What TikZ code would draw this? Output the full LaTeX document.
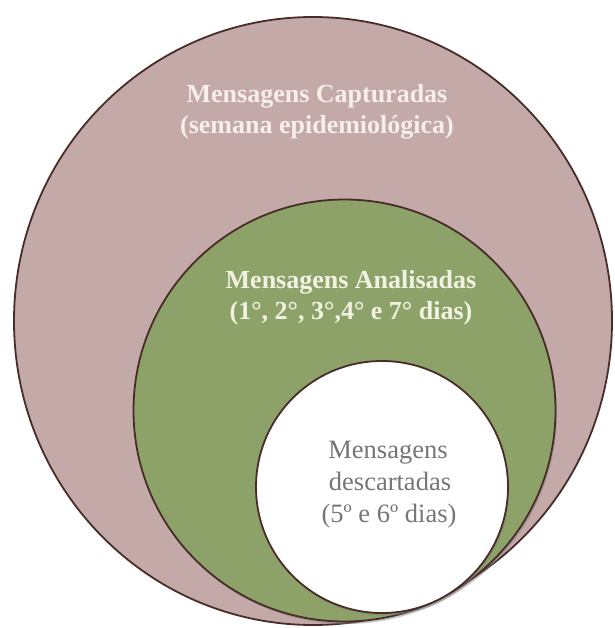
\documentclass[tikz,border=0pt]{standalone}
\usepackage{fontspec}
\setmainfont{Liberation Serif}
\usetikzlibrary{shadows}
\begin{document}
\definecolor{mauve}{RGB}{196,169,169}
\definecolor{olive}{RGB}{141,162,104}
\definecolor{rim}{RGB}{72,44,40}
\definecolor{paletext}{RGB}{246,238,236}
\definecolor{creamtext}{RGB}{242,242,226}
\definecolor{greytext}{RGB}{118,118,118}
\begin{tikzpicture}[x=1pt,y=-1pt,
  ring/.style={draw=rim,line width=1.8pt},
  shaded ring/.style={ring,drop shadow={opacity=0.45,shadow xshift=1.5pt,shadow yshift=-2.5pt}},
  boldline/.style={anchor=base,inner sep=0pt,font=\bfseries\fontsize{26}{30}\selectfont},
  plainline/.style={anchor=base,inner sep=0pt,text=greytext,font=\fontsize{26.5}{32}\selectfont}]
\useasboundingbox (0,0) rectangle (614,628);
% nested sets
\draw[ring,fill=mauve] (313,321) ellipse [x radius=299,y radius=304];
\draw[shaded ring,fill=olive] (344.5,410.5) circle [radius=211];
\draw[shaded ring,fill=white] (382,487) circle [radius=126];
% outer set label
\node[boldline,text=paletext] (captured1) at (317,103) {Mensagens Capturadas};
\node[boldline,text=paletext] (captured2) at (317,134) {(semana epidemiológica)};
% middle set label
\node[boldline,text=creamtext] (analysed1) at (351,288) {Mensagens Analisadas};
\node[boldline,text=creamtext] (analysed2) at (351,319) {(1°, 2°, 3°,4° e 7° dias)};
% inner set label
\node[plainline] (discarded1) at (388,458) {Mensagens};
\node[plainline] (discarded2) at (390,490) {descartadas};
\node[plainline] (discarded3) at (389,522) {(5º e 6º dias)};
\end{tikzpicture}
\end{document}
